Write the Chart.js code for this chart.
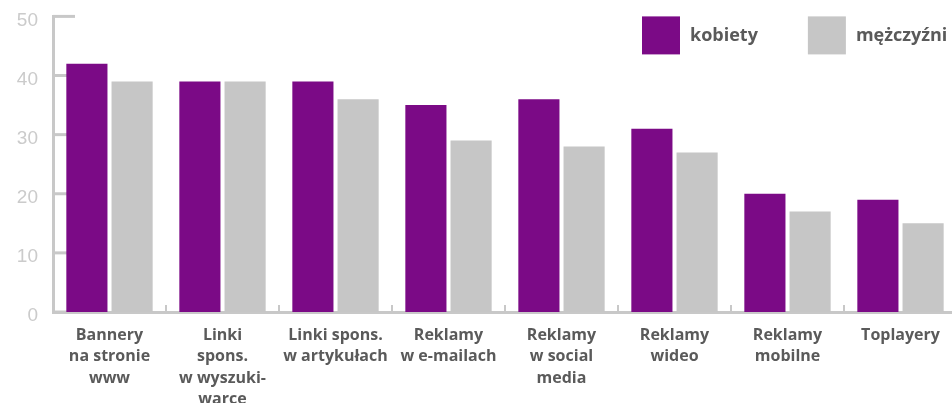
<!DOCTYPE html>
<html lang="pl">
<head>
<meta charset="utf-8">
<title>Reklamy internetowe</title>
<script src="https://cdn.jsdelivr.net/npm/chart.js@4/dist/chart.umd.min.js"></script>
<style>
    html, body { margin: 0; padding: 0; background: #fff; overflow: hidden; }
    #wrap { width: 957px; height: 413px; position: relative; margin-top: -10px; }
</style>
</head>
<body>
<div id="wrap"><canvas id="barChart"></canvas></div>
<script>
const categories = [
    ['Bannery', 'na stronie', 'www'],
    ['Linki', 'spons.', 'w wyszuki-', 'warce'],
    ['Linki spons.', 'w artykułach'],
    ['Reklamy', 'w e-mailach'],
    ['Reklamy', 'w social', 'media'],
    ['Reklamy', 'wideo'],
    ['Reklamy', 'mobilne'],
    ['Toplayery']
];
const kobiety = [42, 39, 39, 35, 36, 31, 20, 19];
const mezczyzni = [39, 39, 36, 29, 28, 27, 17, 15];
const yTicks = [0, 10, 20, 30, 40, 50];

const purple = '#7b0a86';
const gray = '#c6c6c6';
const axisColor = '#c8c8c8';
const textColor = '#5a5a5a';

// short inward tick marks on both axes
const axisTicks = {
    id: 'axisTicks',
    beforeDatasetsDraw(chart) {
        const { ctx, chartArea, scales: { x, y } } = chart;
        ctx.save();
        ctx.strokeStyle = axisColor;
        ctx.lineWidth = 3;
        yTicks.forEach(v => {
            const py = y.getPixelForValue(v);
            ctx.beginPath();
            ctx.moveTo(chartArea.left, py);
            ctx.lineTo(chartArea.left + 22, py);
            ctx.stroke();
        });
        ctx.lineWidth = 2;
        for (let i = 1; i < categories.length; i++) {
            const px = Math.round((x.getPixelForValue(i - 1) + x.getPixelForValue(i)) / 2);
            ctx.beginPath();
            ctx.moveTo(px, chartArea.bottom);
            ctx.lineTo(px, chartArea.bottom - 7);
            ctx.stroke();
        }
        ctx.restore();
    }
};

// legend with big square swatches in the top right corner
const squareLegend = {
    id: 'squareLegend',
    afterDraw(chart) {
        const { ctx, chartArea } = chart;
        const top = chartArea.top;
        ctx.save();
        ctx.font = 'bold 18px "Open Sans", sans-serif';
        ctx.textBaseline = 'middle';
        let px = 642;
        chart.data.datasets.forEach(ds => {
            ctx.fillStyle = ds.backgroundColor;
            ctx.fillRect(px, top, 38, 38);
            ctx.fillStyle = textColor;
            ctx.fillText(ds.label, px + 48, top + 19);
            px += 48 + ctx.measureText(ds.label).width + 50;
        });
        ctx.restore();
    }
};

const ctxBar = document.getElementById('barChart').getContext('2d');
new Chart(ctxBar, {
    type: 'bar',
    data: {
        labels: categories,
        datasets: [
            { label: 'kobiety', data: kobiety, backgroundColor: purple },
            { label: 'mężczyźni', data: mezczyzni, backgroundColor: gray }
        ]
    },
    options: {
        responsive: true,
        maintainAspectRatio: false,
        animation: false,
        categoryPercentage: 0.8,
        barPercentage: 0.91,
        layout: { padding: { top: 5, right: 0, left: 0, bottom: 0 } },
        plugins: {
            legend: { display: false },
            tooltip: { enabled: false }
        },
        scales: {
            x: {
                grid: { display: false, drawTicks: false },
                border: { color: axisColor, width: 3 },
                ticks: {
                    color: textColor,
                    padding: 13,
                    maxRotation: 0,
                    autoSkip: false,
                    font: { family: '"Open Sans", sans-serif', size: 16, weight: 'bold', lineHeight: 1.33 }
                },
                afterFit(scale) { scale.height = 91; }
            },
            y: {
                min: 0,
                max: 50,
                grid: { display: false, drawTicks: false },
                border: { color: axisColor, width: 3 },
                ticks: {
                    stepSize: 10,
                    color: '#cbcbcb',
                    padding: 15,
                    labelOffset: 4,
                    font: { family: '"Liberation Sans", Arial, sans-serif', size: 19 }
                },
                afterFit(scale) { scale.width = 53; }
            }
        }
    },
    plugins: [axisTicks, squareLegend]
});
</script>
</body>
</html>
